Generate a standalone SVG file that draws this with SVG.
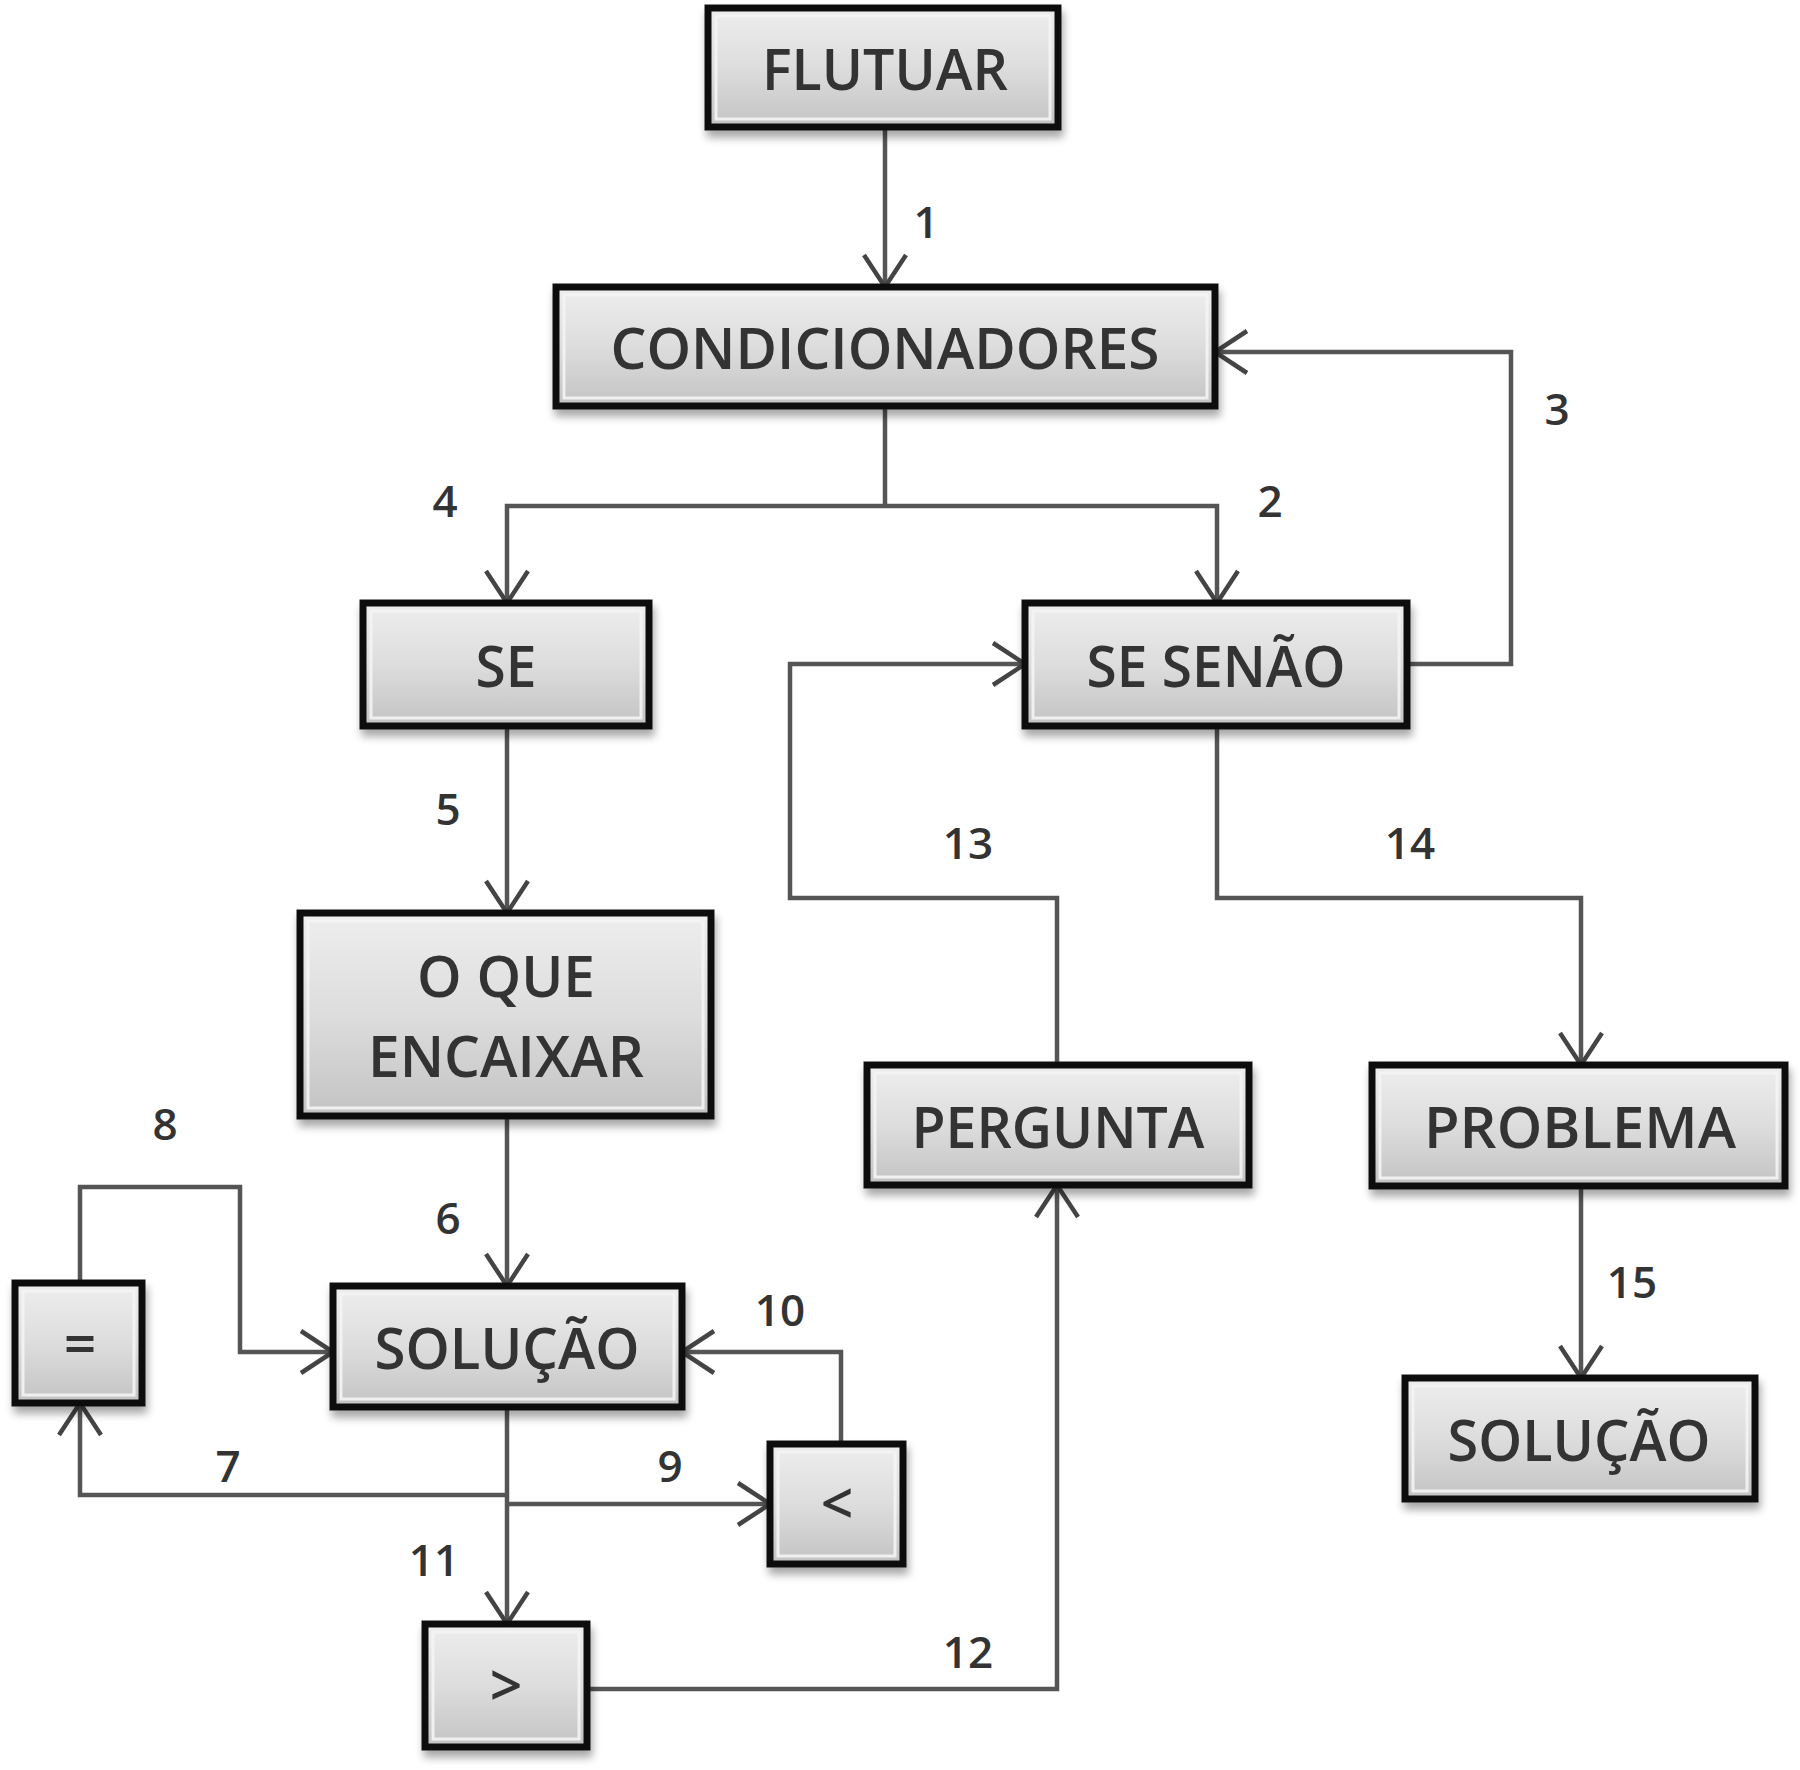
<svg xmlns="http://www.w3.org/2000/svg" width="1800" height="1770" viewBox="0 0 1800 1770">
<style>
.box{fill:url(#g);stroke:#111;stroke-width:7;filter:url(#sh)}
.hl{fill:none;stroke:#f4f4f4;stroke-width:3;opacity:0.9}
.t{font-family:"Open Sans","Liberation Sans",sans-serif;font-size:57px;font-weight:600;fill:#333;text-anchor:middle}
.n{font-family:"Open Sans","Liberation Sans",sans-serif;font-size:44px;font-weight:600;fill:#333;text-anchor:middle}
.c{fill:none;stroke:#555;stroke-width:4.5;marker-end:url(#a)}
.cn{fill:none;stroke:#555;stroke-width:4.5}
</style>
<defs>
<linearGradient id="g" x1="0" y1="0" x2="0" y2="1">
<stop offset="0" stop-color="#eeeeee"/>
<stop offset="0.5" stop-color="#dddddd"/>
<stop offset="1" stop-color="#c3c3c3"/>
</linearGradient>
<filter id="sh" x="-10%" y="-10%" width="125%" height="140%">
<feGaussianBlur in="SourceAlpha" stdDeviation="4"/>
<feOffset dx="2" dy="7" result="b"/>
<feComponentTransfer><feFuncA type="linear" slope="0.35"/></feComponentTransfer>
<feMerge><feMergeNode/><feMergeNode in="SourceGraphic"/></feMerge>
</filter>
<marker id="a" markerUnits="userSpaceOnUse" viewBox="-36 -24 40 48" markerWidth="40" markerHeight="48" refX="0" refY="0" orient="auto" overflow="visible">
<path d="M-32,-21 L0,0 L-32,21" fill="none" stroke="#444" stroke-width="4.5"/>
</marker>
</defs>
<rect width="1800" height="1770" fill="#fff"/>
<g id="connectors">
<path class="c" d="M885,127 V287"/>
<path class="cn" d="M885,406 V506"/>
<path class="c" d="M885,506 H507 V603"/>
<path class="c" d="M885,506 H1217 V603"/>
<path class="c" d="M1407,664 H1511 V352 H1215"/>
<path class="c" d="M507,726 V913"/>
<path class="c" d="M507,1116 V1286"/>
<path class="c" d="M507,1407 V1624"/>
<path class="c" d="M507,1495 H80 V1403"/>
<path class="c" d="M507,1504 H770"/>
<path class="c" d="M841,1444 V1352 H682"/>
<path class="c" d="M80,1283 V1187 H240 V1352 H333"/>
<path class="c" d="M587,1689 H1057 V1185"/>
<path class="c" d="M1057,1065 V898 H790 V664 H1025"/>
<path class="c" d="M1217,726 V898 H1581 V1065"/>
<path class="c" d="M1581,1185 V1378"/>
<text class="n" x="926" y="238">1</text>
<text class="n" x="1270" y="517">2</text>
<text class="n" x="1557" y="425">3</text>
<text class="n" x="445" y="517">4</text>
<text class="n" x="448" y="825">5</text>
<text class="n" x="448" y="1234">6</text>
<text class="n" x="228" y="1482">7</text>
<text class="n" x="165" y="1140" fill="#666">8</text>
<text class="n" x="670" y="1482">9</text>
<text class="n" x="780" y="1326">10</text>
<text class="n" x="434" y="1576">11</text>
<text class="n" x="968" y="1668">12</text>
<text class="n" x="968" y="859">13</text>
<text class="n" x="1410" y="859">14</text>
<text class="n" x="1632" y="1298">15</text>
</g>
<g id="flutuar"><rect class="box" x="708" y="8" width="350" height="119"/><rect class="hl" x="716" y="16" width="334" height="103"/><text class="t" x="885" y="90" textLength="246" lengthAdjust="spacingAndGlyphs">FLUTUAR</text></g>
<g id="condicionadores"><rect class="box" x="556" y="287" width="659" height="119"/><rect class="hl" x="564" y="295" width="643" height="103"/><text class="t" x="885" y="369" textLength="549" lengthAdjust="spacingAndGlyphs">CONDICIONADORES</text></g>
<g id="se"><rect class="box" x="363" y="603" width="286" height="123"/><rect class="hl" x="371" y="611" width="270" height="107"/><text class="t" x="506" y="687" textLength="61" lengthAdjust="spacingAndGlyphs">SE</text></g>
<g id="se-senao"><rect class="box" x="1025" y="603" width="382" height="123"/><rect class="hl" x="1033" y="611" width="366" height="107"/><text class="t" x="1216" y="687" textLength="259" lengthAdjust="spacingAndGlyphs">SE SENÃO</text></g>
<g id="o-que-encaixar"><rect class="box" x="300" y="913" width="411" height="203"/><rect class="hl" x="308" y="921" width="395" height="187"/><text class="t" x="506" y="997" textLength="178" lengthAdjust="spacingAndGlyphs">O QUE</text><text class="t" x="506" y="1077" textLength="276" lengthAdjust="spacingAndGlyphs">ENCAIXAR</text></g>
<g id="solucao-1"><rect class="box" x="333" y="1286" width="349" height="121"/><rect class="hl" x="341" y="1294" width="333" height="105"/><text class="t" x="507" y="1369" textLength="265" lengthAdjust="spacingAndGlyphs">SOLUÇÃO</text></g>
<g id="igual"><rect class="box" x="15" y="1283" width="127" height="120"/><rect class="hl" x="23" y="1291" width="111" height="104"/><text class="t" x="80" y="1364">=</text></g>
<g id="menor"><rect class="box" x="770" y="1444" width="133" height="120"/><rect class="hl" x="778" y="1452" width="117" height="104"/><text class="t" x="837" y="1524" fill="#555">&lt;</text></g>
<g id="maior"><rect class="box" x="425" y="1624" width="162" height="123"/><rect class="hl" x="433" y="1632" width="146" height="107"/><text class="t" x="506" y="1706" fill="#555">&gt;</text></g>
<g id="pergunta"><rect class="box" x="867" y="1065" width="382" height="120"/><rect class="hl" x="875" y="1073" width="366" height="104"/><text class="t" x="1058" y="1148" textLength="293" lengthAdjust="spacingAndGlyphs">PERGUNTA</text></g>
<g id="problema"><rect class="box" x="1372" y="1065" width="413" height="121"/><rect class="hl" x="1380" y="1073" width="397" height="105"/><text class="t" x="1580" y="1148" textLength="312" lengthAdjust="spacingAndGlyphs">PROBLEMA</text></g>
<g id="solucao-2"><rect class="box" x="1405" y="1378" width="350" height="121"/><rect class="hl" x="1413" y="1386" width="334" height="105"/><text class="t" x="1579" y="1461" textLength="263" lengthAdjust="spacingAndGlyphs">SOLUÇÃO</text></g>
</svg>
